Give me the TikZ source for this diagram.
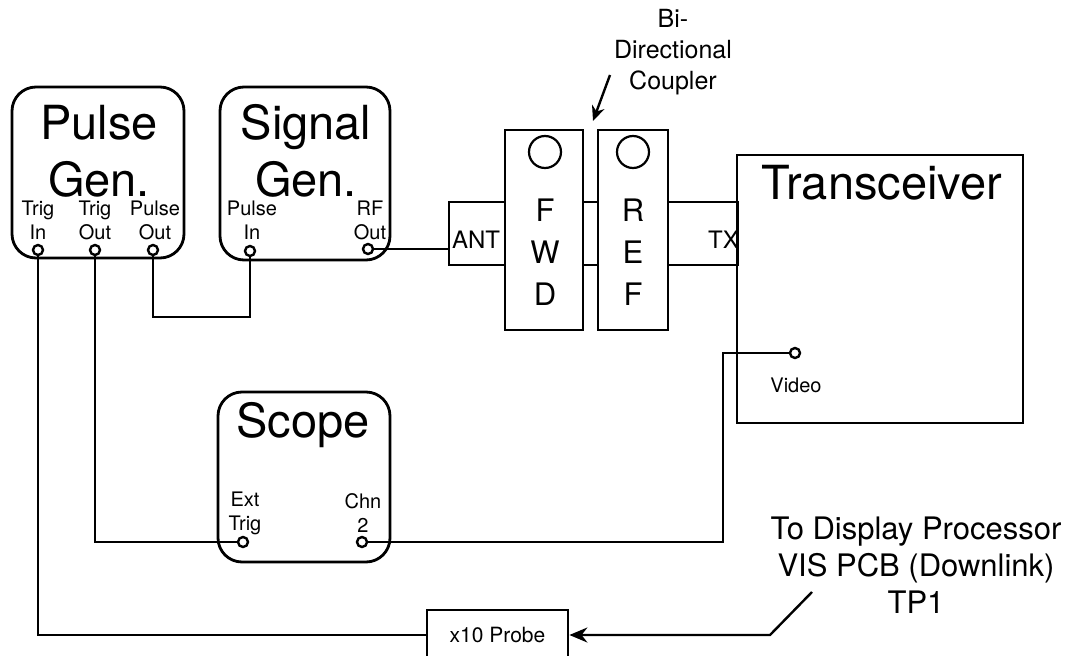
\documentclass[tikz,border=0pt]{standalone}
\usepackage{fontspec}
\setmainfont{TeX Gyre Heros}
\usetikzlibrary{arrows.meta,positioning,calc}
\newcommand{\titlefont}{\fontsize{47}{57}\selectfont}
\newcommand{\letterfont}{\fontsize{31}{42}\selectfont}
\newcommand{\notefont}{\fontsize{31}{37}\selectfont}
\newcommand{\midfont}{\fontsize{25}{31}\selectfont}
\newcommand{\portfont}{\fontsize{20}{24}\selectfont}
\tikzset{
  instr/.style={draw, line width=2.8pt, rounded corners=24pt, inner sep=0pt},
  boxn/.style={draw, line width=2.8pt, inner sep=0pt},
  port/.style={circle, draw, line width=2.4pt, minimum size=10pt, inner sep=0pt},
  lamp/.style={circle, draw, line width=2.2pt, minimum size=32pt, inner sep=0pt},
  wire/.style={line width=2.4pt},
  lbl/.style={align=center, font=\portfont, inner sep=0pt},
  ttl/.style={align=center, font=\titlefont, inner sep=0pt},
}

\begin{document}
\begin{tikzpicture}[x=1pt, y=-1pt]
    \clip (0,0) rectangle (1082,656);
    % instruments
    \node[instr, minimum width=172pt, minimum height=171pt] (pgen) at (98,172.5) {};
    \node[instr, minimum width=170pt, minimum height=173pt] (sgen) at (305,173.5) {};
    \node[instr, minimum width=172pt, minimum height=170pt] (scope) at (304,477) {};
    \node[boxn, minimum width=286pt, minimum height=268pt] (trx) at (880,289) {};
    \node[ttl] at (99,151) {Pulse\\Gen.};
    \node[ttl] at (306,151) {Signal\\Gen.};
    \node[ttl] at (303,425) {Scope};
    \node[ttl] at (882,183) {Transceiver};
    % coupler
    \node[boxn, minimum width=78pt, minimum height=200pt] (fwd) at (544,230) {};
    \node[boxn, minimum width=70pt, minimum height=200pt] (ref) at (633,230) {};
    \node[boxn, minimum width=56pt, minimum height=63pt] (ant) at (477,233.5) {};
    \node[boxn, minimum width=15pt, minimum height=63pt] (link) at (590.5,233.5) {};
    \node[boxn, minimum width=70pt, minimum height=63pt] (tx) at (703,233.5) {};
    \node[lamp] (fwdlamp) at (545,152) {};
    \node[lamp] (reflamp) at (633,152) {};
    \node[align=center, font=\letterfont, inner sep=0pt] at (545,252) {F\\W\\D};
    \node[align=center, font=\letterfont, inner sep=0pt] at (633,252) {R\\E\\F};
    \node[font=\fontsize{24}{28}\selectfont, inner sep=0pt] at (476,240) {ANT};
    \node[font=\fontsize{24}{28}\selectfont, inner sep=0pt, anchor=east] at (739,240) {TX};
    \node[align=center, font=\midfont, inner sep=0pt] (cpl) at (673,52) {Bi-\\Directional\\Coupler};
    \coordinate (cptail) at (610,75);
    \coordinate (cptip) at (593,121);
    \draw[wire, -{Stealth[length=15pt,width=13pt]}] (cptail) -- (cptip);
    % ports
    \node[port] (tin) at (38,250) {};
    \node[port] (tout) at (95,250) {};
    \node[port] (pout) at (153,250) {};
    \node[port] (pin) at (250,251) {};
    \node[port] (rfout) at (368,249) {};
    \node[port] (ext) at (243,542) {};
    \node[port] (chn) at (362,542) {};
    \node[port] (video) at (795,353) {};
    \node[lbl] at (38,220) {Trig\\In};
    \node[lbl] at (95,220) {Trig\\Out};
    \node[lbl] at (155,220) {Pulse\\Out};
    \node[lbl] at (252,220) {Pulse\\In};
    \node[lbl] at (370,220) {RF\\Out};
    \node[lbl] at (245,513) {Ext\\Trig};
    \node[lbl] at (363,513) {Chn\\2};
    \node[lbl] at (796,385) {Video};
    % probe
    \node[boxn, minimum width=141pt, minimum height=50pt, font=\fontsize{21}{25}\selectfont] (probe) at (497.5,635) {x10 Probe};
    \node[align=center, font=\notefont, inner sep=0pt] (tp1txt) at (916,565)
      {To Display Processor\\VIS PCB (Downlink)\\TP1};
    % wiring
    \coordinate (pbend) at (200,317);
    \coordinate (vbend) at (723,353);
    \coordinate (tp1) at (812,592);
    \coordinate (tpbend) at (770,635);
    \draw[wire] (pout.south) |- (pbend) -| (pin.south);
    \draw[wire] (rfout.east) -- (rfout.east -| ant.west);
    \draw[wire] (tout.south) |- (ext.west);
    \draw[wire] (tin.south) |- (probe.west);
    \draw[wire] (chn.east) -| (vbend) -- (video.west);
    \draw[wire, -{Stealth[length=18pt,width=15pt]}] (tp1) -- (tpbend) -- (probe.east);
\end{tikzpicture}
\end{document}
